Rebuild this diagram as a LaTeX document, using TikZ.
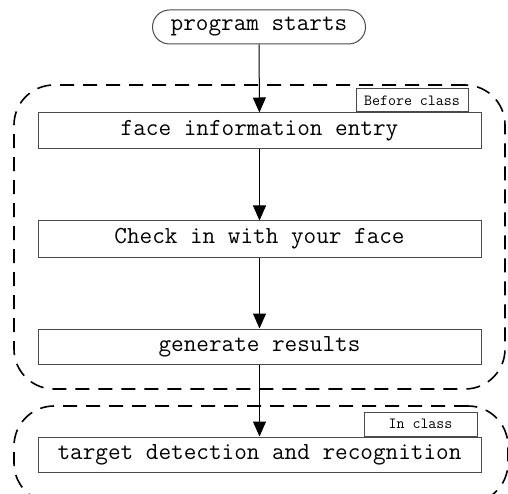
\documentclass[tikz,border=0pt]{standalone}
\usetikzlibrary{arrows.meta, positioning}
\definecolor{cline}{HTML}{4A4A4A}
\tikzset{
  every picture/.style={font=\ttfamily, line width=1pt},
  box/.style={draw=cline, rectangle, align=center, inner sep=0pt, minimum width=443pt, minimum height=36pt, font=\ttfamily\fontsize{24.5}{28}\selectfont},
  tag/.style={draw=cline, rectangle, inner sep=0pt, minimum height=24pt, font=\ttfamily\fontsize{15.5}{18}\selectfont},
  region/.style={draw=black, dash pattern=on 14pt off 9pt, line width=1.6pt, rounded corners=40pt, inner sep=0pt},
  arrow/.style={-{Triangle[length=15pt, width=13pt]}, draw=black, line width=1pt},
}
\begin{document}
\begin{tikzpicture}[x=1pt, y=-1pt]
  \useasboundingbox (0,0) rectangle (508,494);
  % dashed phases
  \node[region, minimum width=491pt, minimum height=304pt] (pre) at (259.5,237) {};
  \node[region, minimum width=494pt, minimum height=97pt] (inc) at (261,454.5) {};
  % steps
  \node[box, rounded corners=17pt, minimum width=213pt, minimum height=34pt] (start) at (259,27) {program starts};
  \node[box] (face) at (259.5,131) {face information entry};
  \node[box] (check) at (259.5,239) {Check in with your face};
  \node[box, minimum height=35pt] (gen) at (259.5,346.5) {generate results};
  \node[box, minimum height=35pt] (target) at (259.5,454.5) {target detection and recognition};
  % phase labels
  \node[tag, minimum width=112pt, minimum height=23pt, anchor=south east] (beforetag) at (face.north east) [xshift=-13pt] {Before class};
  \node[tag, minimum width=113pt, anchor=south east] (intag) at (target.north east) [xshift=-4pt] {In class};
  \draw[arrow] (start) -- (face);
  \draw[arrow] (face) -- (check);
  \draw[arrow] (check) -- (gen);
  \draw[arrow] (gen) -- (target);
\end{tikzpicture}
\end{document}
